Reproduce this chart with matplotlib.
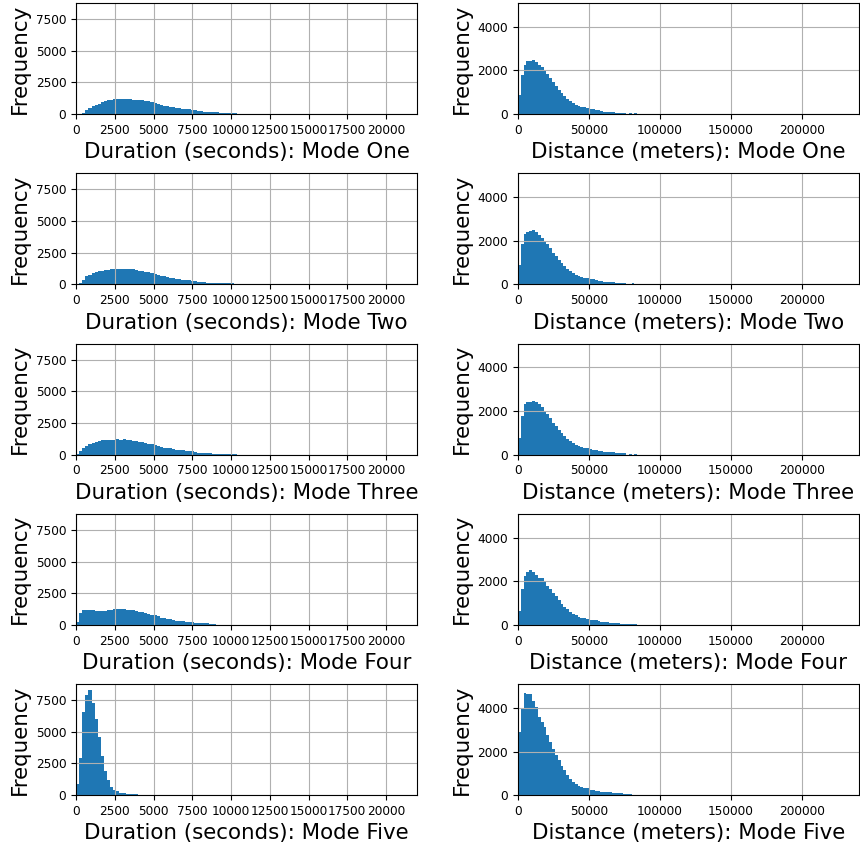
import numpy as np
import matplotlib
matplotlib.use("Agg")
import matplotlib.pyplot as plt

# travel modes, one row each
modes = ["One", "Two", "Three", "Four", "Five"]

# duration histograms, 200 s bins starting at 0
dur_bin = 200
dur_mode1 = [0, 20, 100, 300, 480, 620, 730, 830, 930, 1020,
             1070, 1110, 1150, 1180, 1185, 1185, 1180, 1160, 1140, 1130,
             1120, 1090, 1050, 1000, 950, 860, 800, 720, 660, 620,
             580, 540, 500, 460, 430, 400, 370, 340, 300, 260,
             200, 170, 160, 160, 150, 140, 100, 80, 80, 80,
             75, 70]
dur_mode2 = [0, 80, 350, 620, 760, 880, 960, 1030, 1080, 1130,
             1160, 1190, 1210, 1210, 1210, 1200, 1240, 1190, 1180, 1100,
             1060, 1050, 980, 950, 880, 800, 760, 680, 620, 560,
             520, 470, 420, 400, 370, 350, 300, 270, 240, 200,
             180, 160, 130, 100, 80, 80, 80, 80, 80, 80,
             80, 60]
dur_mode3 = [30, 250, 500, 680, 850, 950, 1010, 1060, 1110, 1130,
             1150, 1180, 1180, 1190, 1180, 1240, 1130, 1110, 1100, 1060,
             1000, 970, 920, 870, 820, 720, 680, 600, 550, 530,
             500, 430, 380, 360, 330, 300, 280, 250, 180, 160,
             160, 150, 130, 90, 80, 80, 80, 80, 80, 60,
             50, 40]
dur_mode4 = [250, 900, 1130, 1170, 1180, 1140, 1120, 1110, 1110, 1120,
             1170, 1200, 1250, 1260, 1250, 1240, 1200, 1160, 1130, 1060,
             1040, 980, 910, 880, 800, 780, 660, 570, 520, 480,
             430, 400, 330, 280, 260, 250, 250, 200, 170, 160,
             160, 150, 140, 100, 80]
dur_mode5 = [900, 2900, 6600, 7900, 8300, 7300, 6000, 4600, 3100, 1900,
             1150, 600, 380, 280, 180, 150, 80, 80, 60, 50]

# distance histograms, 2000 m bins starting at 0
dist_bin = 2000
dist_mode1 = [880, 1800, 2250, 2420, 2430, 2470, 2390, 2260, 2150, 2000,
              1820, 1640, 1450, 1300, 1120, 960, 820, 710, 590, 500,
              420, 370, 330, 300, 290, 240, 230, 190, 170, 160,
              110, 110, 110, 100, 60, 60, 60, 60, 0, 40,
              0, 40]
dist_mode2 = [900, 1850, 2300, 2400, 2450, 2480, 2400, 2280, 2130, 1990,
              1830, 1650, 1460, 1290, 1110, 970, 830, 700, 600, 510,
              430, 360, 330, 310, 280, 250, 220, 200, 170, 150,
              120, 110, 100, 90, 70, 60, 60, 50, 30, 0,
              40, 0]
dist_mode3 = [760, 1750, 2300, 2410, 2430, 2480, 2400, 2300, 2170, 2020,
              1840, 1660, 1470, 1310, 1130, 970, 830, 720, 600, 510,
              430, 370, 330, 300, 280, 240, 220, 200, 170, 150,
              110, 110, 100, 100, 60, 60, 60, 50, 0, 40,
              0, 40]
dist_mode4 = [650, 1650, 2250, 2420, 2500, 2410, 2300, 2160, 2160, 1950,
              1800, 1640, 1460, 1300, 1130, 970, 830, 720, 600, 510,
              430, 370, 330, 300, 280, 240, 220, 200, 170, 150,
              120, 110, 100, 90, 70, 60, 50, 50, 40, 40,
              30, 30]
dist_mode5 = [2900, 3950, 4700, 4650, 4650, 4310, 4050, 3600, 3370, 3120,
              2750, 2430, 2100, 1850, 1620, 1330, 1130, 920, 740, 610,
              500, 410, 360, 330, 310, 230, 220, 180, 170, 150,
              130, 120, 120, 100, 90, 75, 75, 45, 45, 40]

dur_counts = [dur_mode1, dur_mode2, dur_mode3, dur_mode4, dur_mode5]
dist_counts = [dist_mode1, dist_mode2, dist_mode3, dist_mode4, dist_mode5]

dur_ticks = [0, 2500, 5000, 7500, 10000, 12500, 15000, 17500, 20000]
dist_ticks = [0, 50000, 100000, 150000, 200000]
dur_yticks = [0, 2500, 5000, 7500]
dist_yticks = [0, 2000, 4000]

label_size = 15.4
tick_size = 8.7


def draw_hist(ax, counts, width):
    edges = np.arange(len(counts) + 1) * width
    centres = edges[:-1] + width / 2
    ax.hist(centres, bins=edges, weights=counts, color="#1f77b4")
    ax.grid(True)


fig, axes = plt.subplots(5, 2, figsize=(8.6, 8.43), dpi=100)
fig.subplots_adjust(left=0.0884, right=0.9988, top=0.9964, bottom=0.0569,
                    hspace=0.534, wspace=0.296)

for i, mode in enumerate(modes):
    ax = axes[i, 0]
    draw_hist(ax, dur_counts[i], dur_bin)
    ax.set_xlim(0, 22000)
    ax.set_ylim(0, 8770)
    ax.set_xticks(dur_ticks)
    ax.set_yticks(dur_yticks)
    ax.set_xlabel("Duration (seconds): Mode " + mode, fontsize=label_size)
    ax.set_ylabel("Frequency", fontsize=label_size)
    ax.tick_params(labelsize=tick_size)

    ax = axes[i, 1]
    draw_hist(ax, dist_counts[i], dist_bin)
    ax.set_xlim(0, 240000)
    ax.set_ylim(0, 5100)
    ax.set_xticks(dist_ticks)
    ax.set_yticks(dist_yticks)
    ax.set_xlabel("Distance (meters): Mode " + mode, fontsize=label_size)
    ax.set_ylabel("Frequency", fontsize=label_size)
    ax.tick_params(labelsize=tick_size)

fig.savefig("out.png", dpi=100)
